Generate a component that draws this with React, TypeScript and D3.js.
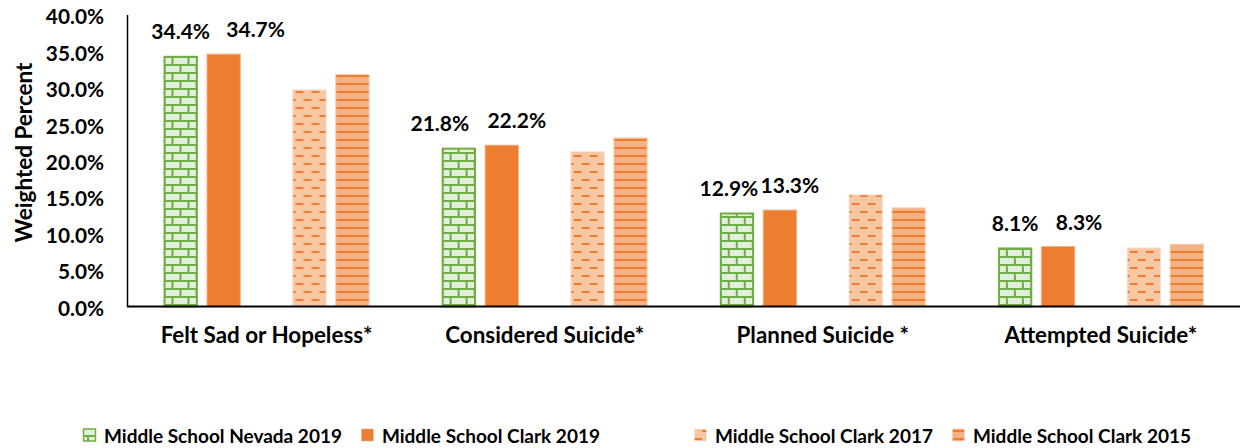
import React from "react";
import * as d3 from "d3";

const categories = ["Felt Sad or Hopeless*", "Considered Suicide*", "Planned Suicide *", "Attempted Suicide*"];
const nevada2019 = [34.4, 21.8, 12.9, 8.1];
const clark2019 = [34.7, 22.2, 13.3, 8.3];
const clark2017 = [29.8, 21.3, 15.4, 8.1];
const clark2015 = [31.9, 23.2, 13.6, 8.6];
const yTicks = [0, 5, 10, 15, 20, 25, 30, 35, 40];
const seriesNames = ["Middle School Nevada 2019", "Middle School Clark 2019", "", "Middle School Clark 2017", "Middle School Clark 2015"];

// layout / style (not data)
const W = 1255;
const H = 448;
const FONT = "Lato, 'Open Sans', sans-serif";
const labelShift = [[0, 32], [-19, 15], [-8, 10], [0, 21]];

const seriesValues: (number[] | null)[] = [nevada2019, clark2019, null, clark2017, clark2015];
const seriesFill = ["url(#brick)", "#ED7D31", "none", "url(#dashH)", "url(#horiz)"];
const seriesStroke = ["#70AD47", "#F4B183", "none", "#FBE0CC", "#F8CFB3"];
const seriesStrokeW = [2, 1, 0, 1, 1];

function measure(text: string, font: string): number {
  const c = document.createElement("canvas").getContext("2d");
  if (!c) return text.length * 9;
  c.font = font;
  return c.measureText(text).width;
}

export default function App() {
  const x0 = d3.scaleBand<string>().domain(categories).range([127.5, 1240]).paddingInner(0).paddingOuter(0);
  const keys = seriesNames.map((_, i) => String(i));
  const x1 = d3.scaleBand<string>().domain(keys).range([0, x0.bandwidth()]).paddingInner(0.2).paddingOuter(0.84);
  const y = d3.scaleLinear().domain([0, 40]).range([306.5, 15]);
  const fmt = (v: number) => d3.format(".1f")(v) + "%";

  // legend layout
  const legendSize = 19;
  const legendFont = `bold ${legendSize}px Lato`;
  let lx = 83;
  const legendItems: { x: number; i: number; name: string }[] = [];
  seriesNames.forEach((name, i) => {
    if (name === "") {
      lx += 75;
      return;
    }
    legendItems.push({ x: lx, i, name });
    lx += 21 + measure(name, legendFont) + 19;
  });

  return (
    <svg width={W} height={H} style={{ position: "absolute", left: 0, top: 0, background: "#fff" }} fontFamily={FONT}>
      <defs>
        <pattern id="brick" patternUnits="userSpaceOnUse" width={16} height={16}>
          <rect width={16} height={16} fill="#E2EFDA" />
          <rect x={0} y={0} width={16} height={2} fill="#70AD47" />
          <rect x={0} y={8} width={16} height={2} fill="#70AD47" />
          <rect x={4} y={0} width={2} height={8} fill="#70AD47" />
          <rect x={12} y={8} width={2} height={8} fill="#70AD47" />
        </pattern>
        <pattern id="dashH" patternUnits="userSpaceOnUse" width={16} height={16}>
          <rect width={16} height={16} fill="#F7C6A2" />
          <rect x={0} y={3} width={8} height={2} fill="#ED7D31" />
          <rect x={8} y={11} width={8} height={2} fill="#ED7D31" />
        </pattern>
        <pattern id="horiz" patternUnits="userSpaceOnUse" width={8} height={8}>
          <rect width={8} height={8} fill="#F4B183" />
          <rect x={0} y={3} width={8} height={2} fill="#ED7D31" />
        </pattern>
      </defs>

      {/* bars */}
      {categories.map((cat, ci) => (
        <g key={cat} transform={`translate(${x0(cat)},0)`}>
          {seriesValues.map((vals, si) => {
            if (!vals) return null;
            const v = vals[ci];
            const bx = x1(String(si)) as number;
            const sw = seriesStrokeW[si];
            return (
              <rect
                key={si}
                x={bx + sw / 2}
                y={y(v) + sw / 2}
                width={x1.bandwidth() - sw}
                height={y(0) - y(v) - sw / 2}
                fill={seriesFill[si]}
                stroke={seriesStroke[si]}
                strokeWidth={sw}
              />
            );
          })}
          {[0, 1].map((si) => {
            const vals = seriesValues[si] as number[];
            const v = vals[ci];
            const cx = (x1(String(si)) as number) + x1.bandwidth() / 2 + labelShift[ci][si];
            return (
              <text key={"l" + si} x={cx} y={y(v) - 16.5} textAnchor="middle" fontSize={21} fontWeight="bold" fill="#000">
                {fmt(v)}
              </text>
            );
          })}
          <text x={x0.bandwidth() / 2} y={343} textAnchor="middle" fontSize={22.4} fontWeight="bold" fill="#000">
            {cat}
          </text>
        </g>
      ))}

      {/* axes */}
      <line x1={127.5} x2={127.5} y1={y(40)} y2={y(0)} stroke="#000" strokeWidth={1.5} />
      <line x1={127} x2={1240} y1={y(0)} y2={y(0)} stroke="#000" strokeWidth={2.2} />
      {yTicks.map((t) => (
        <text key={t} x={104} y={y(t) + 0.8} textAnchor="end" dominantBaseline="central" fontSize={20.8} fontWeight="bold" fill="#000">
          {fmt(t)}
        </text>
      ))}
      <text
        transform={`translate(32,152.5) rotate(-90)`}
        textAnchor="middle"
        fontSize={22.5}
        fontWeight="bold"
        fill="#000"
      >
        Weighted Percent
      </text>

      {/* legend */}
      {legendItems.map((it) => (
        <g key={it.i} transform={`translate(${it.x},435)`}>
          <rect x={0.5} y={-6} width={12} height={12} fill={seriesFill[it.i]} stroke={seriesStroke[it.i]} strokeWidth={it.i === 0 ? 1.5 : 0.5} />
          <text x={21} y={0} dominantBaseline="central" fontSize={legendSize} fontWeight="bold" fill="#000">
            {it.name}
          </text>
        </g>
      ))}
    </svg>
  );
}
